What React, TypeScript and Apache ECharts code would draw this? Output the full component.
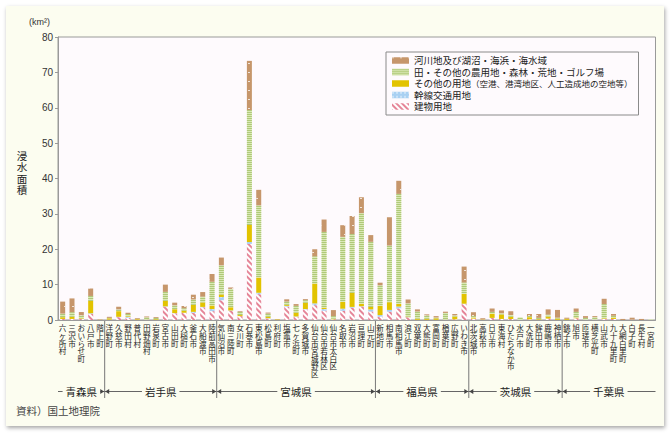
import React, { useEffect, useRef } from 'react';
import * as echarts from 'echarts';

const municipalities = [
  '六ヶ所村', '三沢市', 'おいらせ町', '八戸市', '階上町',
  '洋野町', '久慈市', '野田村', '普代村', '田野畑村', '岩泉町', '宮古市', '山田町', '大槌町', '釜石市', '大船渡市', '陸前高田市',
  '気仙沼市', '南三陸町', '女川町', '石巻市', '東松島市', '松島町', '利府町', '塩竈市', '七ヶ浜町', '多賀城市', '仙台市宮城野区', '仙台市若林区', '仙台市太白区', '名取市', '岩沼市', '亘理町', '山元町',
  '新地町', '相馬市', '南相馬市', '浪江町', '双葉町', '大熊町', '富岡町', '楢葉町', '広野町', 'いわき市',
  '北茨城市', '高萩市', '日立市', '東海村', 'ひたちなか市', '水戸市', '大洗町', '鉾田市', '鹿嶋市', '神栖市',
  '銚子市', '旭市', '匝瑳市', '横芝光町', '山武市', '九十九里町', '大網白里町', '白子町', '長生村', '一宮町',
];

const building = [
  0.3, 0.3, 0.3, 1.7, 0.05,
  0.1, 0.8, 0.6, 0.1, 0.1, 0.05, 3.75, 1.9, 2.0, 2.0, 3.6, 2.5,
  5.6, 2.6, 1.1, 21.5, 7.3, 0.4, 0.05, 3.8, 0.9, 3.0, 4.2, 2.6, 0.2, 2.6, 3.5, 3.8, 2.4,
  0.9, 2.35, 3.3, 0.75, 0.05, 0.05, 0.05, 0.05, 0.2, 4.5,
  0.4, 0.1, 0.6, 0.3, 0.3, 0, 0.2, 0.1, 0.4, 0.05,
  0.05, 0.5, 0.1, 0.1, 0.3, 0.3, 0, 0.1, 0, 0,
];
const transport = [
  0, 0, 0, 0.2, 0,
  0, 0.1, 0.3, 0, 0, 0, 0.1, 0.05, 0.05, 0.3, 0.1, 0.6,
  0.9, 0.1, 0, 0.55, 0.4, 0.1, 0, 0.2, 0.1, 0.1, 0.5, 0.5, 0, 0.6, 0.2, 0.1, 0.6,
  0.5, 0.5, 0.5, 0.05, 0, 0, 0, 0, 0, 0.1,
  0, 0, 0, 0, 0, 0, 0, 0, 0, 0,
  0, 0, 0, 0, 0, 0, 0, 0, 0, 0,
];
const otherUse = [
  0.5, 0.6, 0.2, 3.5, 0.05,
  0.4, 1.6, 0.2, 0.2, 0.05, 0.2, 1.6, 1.1, 0.6, 2.0, 1.3, 1.0,
  0.75, 0.9, 0.3, 4.8, 4.3, 0.4, 0.15, 0.3, 1.1, 1.8, 5.6, 0.4, 0.2, 1.9, 4.0, 0.7, 0.7,
  2.6, 2.2, 0.75, 0.2, 0.35, 0.3, 0.45, 0.05, 0.8, 2.8,
  0.3, 0.1, 1.2, 1.3, 0.6, 0, 0.6, 0.2, 0.6, 0.4,
  0.3, 0.2, 0, 0, 0.2, 0.4, 0, 0, 0, 0,
];
const farmland = [
  1.0, 1.3, 0.8, 1.4, 0.05,
  0.1, 0.5, 0.6, 0.05, 0.6, 0.3, 2.5, 1.1, 0.65, 1.5, 1.6, 6.7,
  8.2, 5.2, 0.9, 32.5, 20.4, 0.9, 0, 0.9, 1.9, 0.7, 7.7, 21.4, 0.7, 18.4, 16.6, 25.6, 18.4,
  5.8, 16.0, 31.1, 3.7, 2.0, 0.95, 0.2, 1.9, 0.3, 3.2,
  0.4, 0, 0.5, 0.3, 0.5, 0.75, 0.3, 0.3, 0.5, 0.2,
  0, 1.6, 0.5, 0.7, 4.0, 0.5, 0, 0, 0, 0.2,
];
const riverSea = [
  3.4, 3.9, 0.95, 2.1, 0.1,
  0.3, 0.75, 0.35, 0.2, 0.25, 0.25, 2.05, 0.75, 0.65, 1.35, 1.3, 2.2,
  2.2, 0.4, 0.2, 13.9, 4.4, 0.3, 0.05, 0.65, 0.5, 0.3, 2.0, 3.5, 1.7, 3.3, 5.1, 4.5, 1.9,
  0.75, 8.0, 3.7, 1.1, 0.6, 0.3, 0.4, 0.35, 0.4, 4.5,
  1.1, 0.3, 0.95, 0.8, 1.1, 0, 0.6, 1.1, 1.5, 2.2,
  0.3, 0.95, 0.5, 0.3, 1.5, 0.5, 0.3, 0.55, 0.3, 0,
];

const prefectures = ['青森県', '岩手県', '宮城県', '福島県', '茨城県', '千葉県'];
const prefectureCounts = [5, 12, 17, 10, 10, 10];

const NAME_RIVER = '河川地及び湖沼・海浜・海水域';
const NAME_FARM = '田・その他の農用地・森林・荒地・ゴルフ場';
const NAME_OTHER = 'その他の用地（空港、港湾地区、人工造成地の空地等）';
const NAME_TRANS = '幹線交通用地';
const NAME_BUILD = '建物用地';

const FONT = '"Liberation Sans", "Noto Sans CJK JP", sans-serif';
const PANEL = '#fcfdf0';
const GRID_LEFT = 58;
const GRID_TOP = 37;
const GRID_W = 597.5;
const GRID_H = 283;
const ROW_Y = 391.5;

export default function App() {
  const ref = useRef<HTMLDivElement>(null);
  useEffect(() => {
    document.body.style.margin = '0';
    const chart = echarts.init(ref.current!, null, { renderer: 'svg' });
    const mk = (name: string, data: number[], color: string, decal?: any) => ({
      name,
      type: 'bar',
      stack: 'total',
      barWidth: 5,
      data,
      itemStyle: decal ? { color, decal } : { color },
    });
    chart.setOption({
      animation: false,
      backgroundColor: 'transparent',
      textStyle: { fontFamily: FONT },
      grid: {
        left: GRID_LEFT, top: GRID_TOP, width: GRID_W, height: GRID_H,
        show: true, borderColor: '#9a9a9a', borderWidth: 1, backgroundColor: '#fefafd',
      },
      legend: {
        orient: 'vertical',
        left: 386, top: 52,
        icon: 'rect',
        itemWidth: 17, itemHeight: 6.5, itemGap: 0.5,
        padding: [3, 6, 3, 6],
        borderColor: '#8a8a8a', borderWidth: 1, borderRadius: 0,
        backgroundColor: '#fefafd',
        data: [NAME_RIVER, NAME_FARM, NAME_OTHER, NAME_TRANS, NAME_BUILD],
        textStyle: {
          fontSize: 9.5, lineHeight: 11, color: '#222', fontFamily: FONT,
          rich: {
            a: { fontSize: 9.5, lineHeight: 11, color: '#222', fontFamily: FONT },
            b: { fontSize: 8.5, lineHeight: 11, color: '#222', fontFamily: FONT },
          },
        },
        formatter: (n: string) =>
          n === NAME_OTHER ? '{a|その他の用地}{b|（空港、港湾地区、人工造成地の空地等）}' : n,
      },
      xAxis: {
        type: 'category',
        data: municipalities,
        axisLine: { show: true, lineStyle: { color: '#9a9a9a' } },
        axisTick: { show: false },
        axisLabel: {
          interval: 0,
          fontSize: 7.6,
          lineHeight: 7.6,
          color: '#222',
          margin: 5,
          verticalAlign: 'top',
          formatter: (v: string) => v.split('').join('\n'),
        },
      },
      yAxis: {
        type: 'value',
        min: 0, max: 80, interval: 10,
        axisLine: { show: true, lineStyle: { color: '#9a9a9a' } },
        axisTick: { show: true, length: 3, lineStyle: { color: '#9a9a9a' } },
        splitLine: { show: false },
        axisLabel: { fontSize: 10, color: '#333', margin: 5 },
      },
      series: [
        mk(NAME_BUILD, building, '#ffffff', {
          color: '#e58598', dashArrayX: [1, 0], dashArrayY: [2, 2], rotation: Math.PI / 4,
        }),
        mk(NAME_TRANS, transport, '#a9d0f2', {
          symbol: 'circle', symbolSize: 0.7, color: '#ffffff', dashArrayX: [2, 2], dashArrayY: [2, 2],
        }),
        mk(NAME_OTHER, otherUse, '#e2c300'),
        mk(NAME_FARM, farmland, '#dae8b6', {
          color: '#afc978', dashArrayX: [1, 0], dashArrayY: [1, 1], rotation: 0,
        }),
        mk(NAME_RIVER, riverSea, '#c6966b', {
          color: 'rgba(255,255,255,0.75)', dashArrayX: [2, 6], dashArrayY: [1, 8], rotation: 0,
        }),
      ],
    });

    const px = (i: number) => chart.convertToPixel({ xAxisIndex: 0 }, municipalities[i]) as number;
    const gridRight = GRID_LEFT + GRID_W;
    const bounds: number[] = [];
    let acc = 0;
    for (let k = 0; k < prefectureCounts.length - 1; k++) {
      acc += prefectureCounts[k];
      bounds.push((px(acc - 1) + px(acc)) / 2);
    }
    const edges = [GRID_LEFT, ...bounds, gridRight];
    const graphic: any[] = [];
    graphic.push({
      type: 'line', silent: true,
      shape: { x1: GRID_LEFT, y1: ROW_Y, x2: gridRight, y2: ROW_Y },
      style: { stroke: '#666', lineWidth: 1 },
    });
    bounds.forEach((x) => {
      graphic.push({
        type: 'line', silent: true,
        shape: { x1: x, y1: GRID_TOP + GRID_H, x2: x, y2: 398 },
        style: { stroke: '#777', lineWidth: 1 },
      });
      graphic.push({
        type: 'polygon', silent: true,
        shape: { points: [[x - 0.5, ROW_Y], [x - 4.5, ROW_Y - 2.5], [x - 4.5, ROW_Y + 2.5]] },
        style: { fill: '#444' },
      });
      graphic.push({
        type: 'polygon', silent: true,
        shape: { points: [[x + 0.5, ROW_Y], [x + 4.5, ROW_Y - 2.5], [x + 4.5, ROW_Y + 2.5]] },
        style: { fill: '#444' },
      });
    });
    prefectures.forEach((p, k) => {
      const cx = (edges[k] + edges[k + 1]) / 2;
      graphic.push({
        type: 'text', silent: true, x: cx, y: ROW_Y,
        style: {
          text: p, fontSize: 10.5, fill: '#222', fontFamily: FONT,
          align: 'center', verticalAlign: 'middle',
          backgroundColor: PANEL, padding: [1, 3],
        },
      });
    });
    graphic.push({
      type: 'text', silent: true, x: 29, y: 17,
      style: { text: '(km²)', fontSize: 9, fill: '#333', fontFamily: FONT },
    });
    graphic.push({
      type: 'text', silent: true, x: 22, y: 173,
      style: {
        text: '浸\n水\n面\n積', fontSize: 10.5, lineHeight: 11.5, fill: '#222', fontFamily: FONT,
        align: 'center', verticalAlign: 'middle',
      },
    });
    graphic.push({
      type: 'text', silent: true, x: 16, y: 411,
      style: { text: '資料）国土地理院', fontSize: 10.5, fill: '#444', fontFamily: FONT, verticalAlign: 'middle' },
    });
    chart.setOption({ graphic });
    return () => chart.dispose();
  }, []);

  return (
    <div style={{ position: 'relative', width: 671, height: 433, background: '#ffffff', overflow: 'hidden' }}>
      <div
        style={{
          position: 'absolute', left: 6, top: 6, width: 658, height: 420,
          background: PANEL, boxShadow: '1px 2px 4px rgba(0,0,0,0.35)',
        }}
      />
      <div ref={ref} style={{ position: 'absolute', left: 0, top: 0, width: 671, height: 433 }} />
    </div>
  );
}
